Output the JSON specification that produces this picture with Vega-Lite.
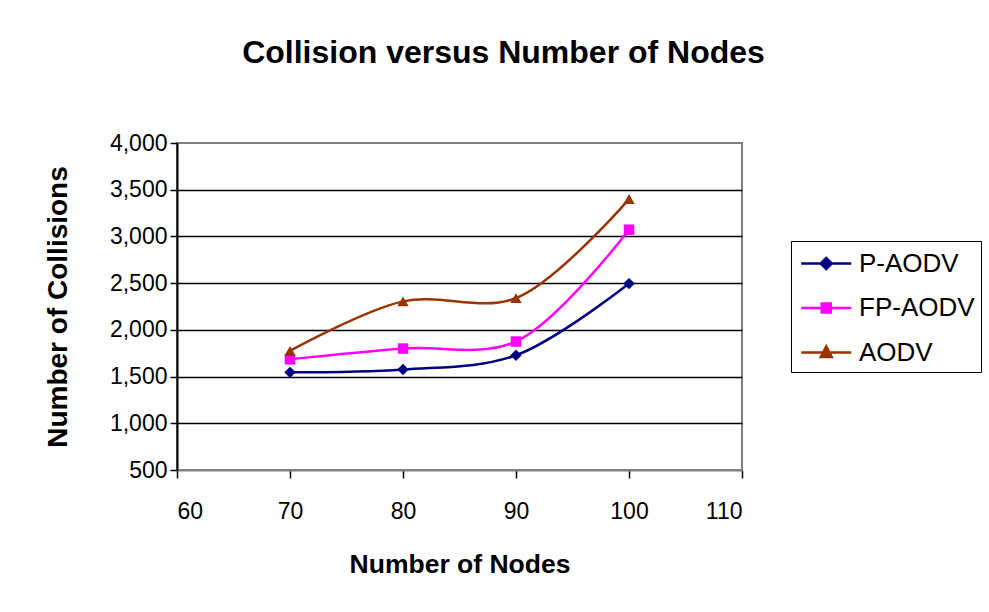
{
  "$schema": "https://vega.github.io/schema/vega-lite/v6.json",
  "width": 565,
  "height": 327,
  "autosize": {"type": "none"},
  "padding": {"left": 177, "top": 143, "right": 247, "bottom": 142},
  "background": "white",
  "config": {
    "font": "Liberation Sans",
    "view": {"stroke": "#808080", "strokeWidth": 2}
  },
  "title": {
    "text": "Collision versus Number of Nodes",
    "font": "Liberation Sans",
    "fontSize": 32,
    "fontWeight": "bold",
    "color": "black",
    "anchor": "middle",
    "frame": "group",
    "dx": 44,
    "offset": 62
  },
  "data": {
    "values": [
      {"nodes": 70, "collisions": 1545, "series": "P-AODV"},
      {"nodes": 80, "collisions": 1575, "series": "P-AODV"},
      {"nodes": 90, "collisions": 1728, "series": "P-AODV"},
      {"nodes": 100, "collisions": 2495, "series": "P-AODV"},
      {"nodes": 70, "collisions": 1685, "series": "FP-AODV"},
      {"nodes": 80, "collisions": 1800, "series": "FP-AODV"},
      {"nodes": 90, "collisions": 1875, "series": "FP-AODV"},
      {"nodes": 100, "collisions": 3072, "series": "FP-AODV"},
      {"nodes": 70, "collisions": 1775, "series": "AODV"},
      {"nodes": 80, "collisions": 2305, "series": "AODV"},
      {"nodes": 90, "collisions": 2340, "series": "AODV"},
      {"nodes": 100, "collisions": 3400, "series": "AODV"}
    ]
  },
  "encoding": {
    "x": {
      "field": "nodes",
      "type": "quantitative",
      "scale": {"domain": [60, 110], "nice": false, "zero": false},
      "axis": {
        "title": "Number of Nodes",
        "values": [60, 70, 80, 90, 100, 110],
        "grid": false,
        "domainColor": "#808080",
        "domainWidth": 2,
        "tickColor": "black",
        "tickWidth": 1.5,
        "tickSize": 8,
        "labelPadding": 22,
        "labelFontSize": 23,
        "labelColor": "black",
        "labelFont": "Liberation Sans",
        "titleFont": "Liberation Sans",
        "titleFontSize": 26.5,
        "titleFontWeight": "bold",
        "titleColor": "black",
        "titlePadding": 28
      }
    },
    "y": {
      "field": "collisions",
      "type": "quantitative",
      "scale": {"domain": [500, 4000], "nice": false, "zero": false},
      "axis": {
        "title": "Number of Collisions",
        "values": [500, 1000, 1500, 2000, 2500, 3000, 3500, 4000],
        "format": ",.0f",
        "grid": true,
        "gridColor": {"condition": {"test": "datum.value === 4000 || datum.value === 500", "value": "transparent"}, "value": "black"},
        "gridWidth": 1.5,
        "domainColor": "black",
        "domainWidth": 2,
        "tickColor": "black",
        "tickWidth": 1.5,
        "tickSize": 7,
        "labelPadding": 3,
        "labelFontSize": 23,
        "labelColor": "black",
        "labelFont": "Liberation Sans",
        "titleFont": "Liberation Sans",
        "titleFontSize": 28,
        "titleFontWeight": "bold",
        "titleColor": "black",
        "titlePadding": 37
      }
    },
    "color": {
      "field": "series",
      "type": "nominal",
      "scale": {"domain": ["P-AODV", "FP-AODV", "AODV"], "range": ["#000080", "#FF00FF", "#993300"]},
      "legend": {
        "title": null,
        "orient": "none",
        "legendX": 614,
        "legendY": 98,
        "strokeColor": "black",
        "fillColor": "white",
        "padding": 6,
        "labelFontSize": 26,
        "labelFont": "Liberation Sans",
        "labelColor": "black",
        "labelOffset": 29,
        "symbolSize": 900,
        "symbolStrokeWidth": 2.5,
        "rowPadding": 14.5,
        "encode": {
          "symbols": {
            "update": {
              "shape": {"signal": "datum.value === 'P-AODV' ? 'M-0.817,0H2.517M0.48,0L0.85,-0.37L1.22,0L0.85,0.37Z' : datum.value === 'FP-AODV' ? 'M-0.817,0H2.517M0.55,-0.3H1.15V0.3H0.55Z' : 'M-0.817,0H2.517M0.48,0.3L0.85,-0.4L1.22,0.3Z'"},
              "stroke": {"scale": "color", "field": "value"},
              "fill": {"scale": "color", "field": "value"},
              "strokeWidth": {"value": 2.5},
              "opacity": {"value": 1}
            }
          }
        }
      }
    }
  },
  "layer": [
    {"mark": {"type": "line", "interpolate": "catmull-rom", "strokeWidth": 2.5}},
    {
      "transform": [{"filter": "datum.series === 'P-AODV'"}],
      "mark": {"type": "point", "filled": true, "size": 130, "opacity": 1, "shape": "diamond"}
    },
    {
      "transform": [{"filter": "datum.series === 'FP-AODV'"}],
      "mark": {"type": "point", "filled": true, "size": 110, "opacity": 1, "shape": "square"}
    },
    {
      "transform": [{"filter": "datum.series === 'AODV'"}],
      "mark": {"type": "point", "filled": true, "size": 130, "opacity": 1, "shape": "triangle-up"}
    }
  ]
}
